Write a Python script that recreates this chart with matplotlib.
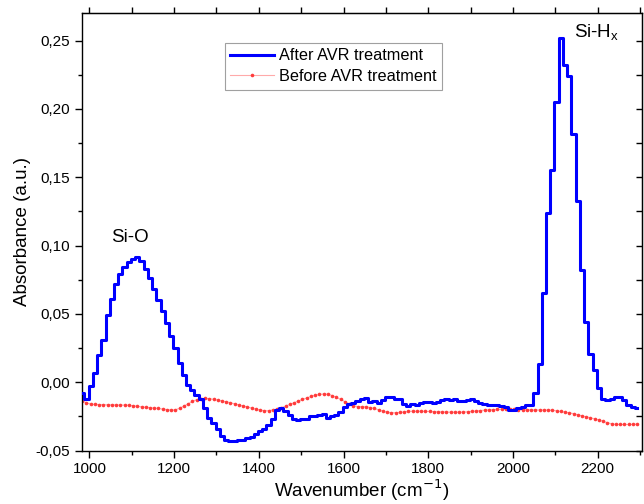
import numpy as np
import matplotlib
matplotlib.use("Agg")
import matplotlib.pyplot as plt
from matplotlib.ticker import MultipleLocator, FuncFormatter

plt.rcParams['font.family'] = ['Liberation Sans', 'DejaVu Sans']

# wavenumber grid (cm^-1)
wn_start, wn_step = 983, 10
after_avr = [
    -0.008, -0.0125, -0.003, 0.007, 0.020, 0.031, 0.049, 0.061, 0.072, 0.079,
    0.084, 0.088, 0.0905, 0.092, 0.089, 0.083, 0.076, 0.068, 0.060, 0.052,
    0.043, 0.034, 0.025, 0.014, 0.005, -0.002, -0.006, -0.009, -0.012, -0.019,
    -0.026, -0.030, -0.034, -0.039, -0.042, -0.043, -0.043, -0.0425, -0.042, -0.041,
    -0.040, -0.038, -0.036, -0.034, -0.031, -0.027, -0.020, -0.019, -0.021, -0.024,
    -0.027, -0.0275, -0.027, -0.027, -0.025, -0.025, -0.024, -0.023, -0.026, -0.025,
    -0.024, -0.022, -0.018, -0.016, -0.015, -0.0135, -0.012, -0.0115, -0.0145, -0.014,
    -0.015, -0.013, -0.011, -0.0105, -0.012, -0.012, -0.016, -0.0175, -0.016, -0.0165,
    -0.015, -0.0145, -0.0145, -0.015, -0.0145, -0.013, -0.0125, -0.013, -0.012, -0.014,
    -0.0135, -0.013, -0.0125, -0.0135, -0.015, -0.016, -0.0165, -0.0165, -0.017, -0.0175,
    -0.018, -0.0205, -0.020, -0.019, -0.018, -0.017, -0.0165, -0.008, 0.013, 0.065,
    0.124, 0.155, 0.205, 0.252, 0.232, 0.224, 0.182, 0.133, 0.082, 0.044,
    0.021, 0.009, -0.004, -0.012, -0.013, -0.0125, -0.0105, -0.011, -0.013, -0.0165,
    -0.018, -0.019,
]
before_avr = [
    -0.0138, -0.015, -0.016, -0.0162, -0.0163, -0.0164, -0.0165, -0.0165, -0.0166, -0.0167,
    -0.0167, -0.0168, -0.0172, -0.0176, -0.018, -0.0183, -0.0186, -0.0189, -0.0192, -0.0196,
    -0.0200, -0.0203, -0.0202, -0.0190, -0.0175, -0.0158, -0.014, -0.0128, -0.012, -0.0118,
    -0.0120, -0.0125, -0.0131, -0.0137, -0.0143, -0.015, -0.0158, -0.0166, -0.0174, -0.0181,
    -0.0189, -0.0197, -0.0204, -0.0208, -0.0208, -0.0203, -0.0195, -0.0186, -0.0175, -0.0162,
    -0.015, -0.0138, -0.0126, -0.0115, -0.0104, -0.0095, -0.0089, -0.0086, -0.0088, -0.0097,
    -0.0110, -0.0125, -0.0142, -0.0158, -0.0172, -0.0178, -0.0178, -0.0180, -0.0185, -0.0192,
    -0.0202, -0.0212, -0.0219, -0.0223, -0.0223, -0.0221, -0.0217, -0.0213, -0.0212, -0.0212,
    -0.0212, -0.0213, -0.0214, -0.0215, -0.0216, -0.0217, -0.0218, -0.0219, -0.0219, -0.0219,
    -0.0218, -0.0216, -0.0213, -0.021, -0.0207, -0.0204, -0.0202, -0.0200, -0.0199, -0.0198,
    -0.0198, -0.0198, -0.0199, -0.0200, -0.0201, -0.0202, -0.0202, -0.0203, -0.0203, -0.0203,
    -0.0204, -0.0205, -0.0209, -0.0214, -0.0219, -0.0224, -0.0230, -0.0238, -0.0246, -0.0253,
    -0.0260, -0.0268, -0.0276, -0.0286, -0.0296, -0.0304, -0.0308, -0.0309, -0.0309, -0.0309,
    -0.0308, -0.0307,
]
wn_after = wn_start + wn_step * np.arange(len(after_avr))
wn_before = wn_start + wn_step * np.arange(len(before_avr))

fig = plt.figure(figsize=(6.44, 5.04), dpi=100)
ax = fig.add_axes([0.127, 0.106, 0.8695, 0.8676])

ax.plot(wn_before, before_avr, color='#ffaaaa', lw=0.8, marker='o', ms=2.6,
        mfc='#ff3b3b', mec='#ff3b3b', mew=0, label='Before AVR treatment', zorder=2)
ax.plot(wn_after, after_avr, color='#0000ff', lw=2.2, drawstyle='steps-mid',
        label='After AVR treatment', zorder=3)

ax.set_xlim(982, 2304)
ax.set_ylim(-0.05, 0.27)

ax.xaxis.set_major_locator(MultipleLocator(200))
ax.xaxis.set_minor_locator(MultipleLocator(100))
ax.yaxis.set_major_locator(MultipleLocator(0.05))
ax.yaxis.set_minor_locator(MultipleLocator(0.025))
ax.yaxis.set_major_formatter(FuncFormatter(lambda v, p: f"{v:.2f}".replace('.', ',').replace('-0,00', '0,00')))
ax.tick_params(which='major', direction='out', length=5, width=1, labelsize=11, colors='black')
ax.tick_params(which='minor', direction='out', length=2.8, width=1)

sx = ax.secondary_xaxis('top')
sx.xaxis.set_major_locator(MultipleLocator(100))
sx.tick_params(direction='out', length=4.5, width=1, labeltop=False)
sy = ax.secondary_yaxis('right')
sy.yaxis.set_major_locator(MultipleLocator(0.025))
sy.tick_params(direction='in', length=4, width=1, labelright=False)

for s in list(ax.spines.values()):
    s.set_linewidth(1)

ax.set_xlabel('Wavenumber (cm$^{-1}$)', fontsize=13.5, labelpad=1)
ax.set_ylabel('Absorbance (a.u.)', fontsize=13.5, labelpad=3)

ax.text(1096, 0.1056, 'Si-O', fontsize=13.5, ha='center', va='center')
ax.text(2197, 0.2556, 'Si-H$_{\\mathregular{x}}$', fontsize=13.5, ha='center', va='center')

handles, labels = ax.get_legend_handles_labels()
leg = ax.legend(handles[::-1], labels[::-1], loc='upper left', bbox_to_anchor=(0.255, 0.933),
                borderaxespad=0, fontsize=11.7, frameon=True, fancybox=False,
                edgecolor='#888888', handlelength=2.7, handletextpad=0.3,
                borderpad=0.35, labelspacing=0.35)
leg.get_frame().set_linewidth(0.8)

fig.savefig('out.png', dpi=100)
